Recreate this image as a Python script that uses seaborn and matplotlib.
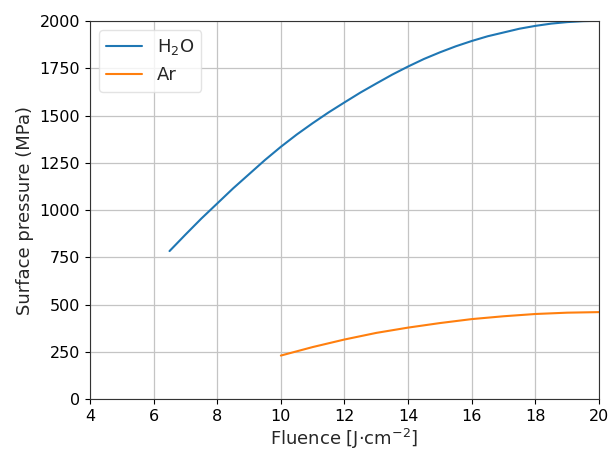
import pandas as pd
import seaborn as sns
import matplotlib
matplotlib.use("Agg")
import matplotlib.pyplot as plt

# Values
h2o_fluence = [6.5, 7, 7.5, 8, 8.5, 9, 9.5, 10, 10.5, 11, 11.5, 12, 12.5, 13, 13.5,
               14, 14.5, 15, 15.5, 16, 16.5, 17, 17.5, 18, 18.5, 19, 19.5, 20]
h2o_pressure = [783, 870, 955, 1035, 1115, 1190, 1265, 1335, 1400, 1460, 1517, 1570, 1622, 1670, 1717,
                1760, 1800, 1835, 1867, 1895, 1920, 1940, 1960, 1975, 1987, 1995, 2000, 2002]
ar_fluence = [10, 11, 12, 13, 14, 15, 16, 17, 18, 19, 20]
ar_pressure = [230, 275, 315, 350, 378, 402, 423, 438, 450, 457, 460]

df = pd.concat([
    pd.DataFrame({"Fluence": h2o_fluence, "Pressure": h2o_pressure, "Gas": "H$_2$O"}),
    pd.DataFrame({"Fluence": ar_fluence, "Pressure": ar_pressure, "Gas": "Ar"}),
])

sns.set_style("ticks")
plt.rcParams['font.family'] = ['DejaVu Sans']

fig = plt.figure(figsize=(6.1, 4.5), dpi=100)
ax = fig.add_axes([0.1475, 0.1133, 0.8345, 0.8397])
sns.lineplot(data=df, x="Fluence", y="Pressure", hue="Gas",
             palette=["#1f77b4", "#ff7f0e"], linewidth=1.5, ax=ax)

ax.set_xlim(4, 20)
ax.set_ylim(0, 2000)
ax.set_xticks(range(4, 21, 2))
ax.set_yticks(range(0, 2001, 250))
ax.grid(True, color="#c4c4c4", linewidth=0.9)
for s in ax.spines.values():
    s.set_color("#333333")
ax.tick_params(labelsize=11.5, colors="black", direction="out", length=3.5)
ax.set_xlabel("Fluence [J$\\cdot$cm$^{-2}$]", fontsize=13, labelpad=2)
ax.set_ylabel("Surface pressure (MPa)", fontsize=13)
leg = ax.legend(title=None, loc="upper left", fontsize=13, frameon=True, handlelength=2)
leg.get_frame().set_edgecolor("#dddddd")

fig.savefig("out.png", dpi=100)
